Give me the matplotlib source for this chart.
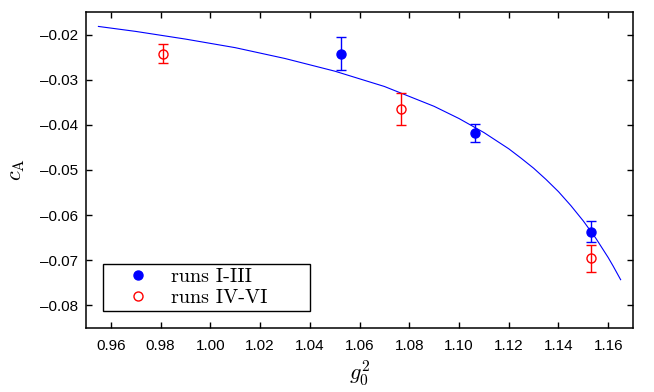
import matplotlib
matplotlib.use("Agg")
import matplotlib.pyplot as plt

# === Data ===
g2_a = [1.0525, 1.1064, 1.1531]
ca_a = [-0.0242, -0.0418, -0.0637]
err_a = [0.0036, 0.0020, 0.0023]

g2_b = [0.9811, 1.0768, 1.1531]
ca_b = [-0.0243, -0.0365, -0.0696]
err_b = [0.0021, 0.0036, 0.0030]

# fit curve, sampled along the drawn line
fit_g2 = [0.955, 0.970, 0.990, 1.010, 1.030, 1.050, 1.070, 1.090, 1.100,
          1.110, 1.120, 1.125, 1.130, 1.135, 1.140, 1.145, 1.150, 1.155,
          1.160, 1.162, 1.165]
fit_ca = [-0.0182, -0.0193, -0.0210, -0.0229, -0.0253, -0.0281, -0.0315, -0.0359,
          -0.0386, -0.0417, -0.0453, -0.0474, -0.0496, -0.0521, -0.0548, -0.0579,
          -0.0613, -0.0651, -0.0694, -0.0713, -0.0743]

xticks = [0.96, 0.98, 1.00, 1.02, 1.04, 1.06, 1.08, 1.10, 1.12, 1.14, 1.16]
yticks = [-0.08, -0.07, -0.06, -0.05, -0.04, -0.03, -0.02]

plt.rcParams['mathtext.fontset'] = 'cm'
plt.rcParams['font.family'] = ['Liberation Sans', 'DejaVu Sans']

fig = plt.figure(figsize=(6.54, 3.92), dpi=100)
ax = fig.add_axes([0.1315, 0.1633, 0.8365, 0.8061])

ax.plot(fit_g2, fit_ca, color='blue', lw=0.8)
ax.errorbar(g2_a, ca_a, yerr=err_a, fmt='o', color='blue', ms=6.5,
            capsize=3.5, elinewidth=1, capthick=1, label='runs I-III')
ax.errorbar(g2_b, ca_b, yerr=err_b, fmt='o', color='red', mfc='none', ms=6.5,
            mew=1, capsize=3.5, elinewidth=1, capthick=1, label='runs IV-VI')

ax.set_xlim(0.95, 1.17)
ax.set_ylim(-0.085, -0.015)
ax.set_xticks(xticks)
ax.set_xticklabels([f"{v:.2f}" for v in xticks])
ax.set_yticks(yticks)
ax.set_yticklabels([f"\u2013{abs(v):.2f}" for v in yticks])
ax.tick_params(direction='in', length=4, width=1, top=True, right=True,
               labelsize=11)
ax.tick_params(axis='x', pad=8)
ax.tick_params(axis='y', pad=6)
for s in ax.spines.values():
    s.set_linewidth(1.1)

ax.set_xlabel(r'$g_0^2$', fontsize=16, labelpad=4)
ax.set_ylabel(r'$c_\mathrm{A}$', fontsize=16, labelpad=9)

handles, labels = ax.get_legend_handles_labels()
handles = [h[0] for h in handles]
leg = ax.legend(handles, labels, loc='lower left',
                bbox_to_anchor=(0.031, 0.053, 0.378, 0.154), mode='expand',
                borderaxespad=0, fancybox=False, edgecolor='black',
                framealpha=1, handlelength=3.0, handletextpad=0.15,
                borderpad=0.22, labelspacing=0.12,
                prop={'family': 'cmr10', 'size': 14.5})
leg.get_frame().set_linewidth(1.0)

fig.savefig("out.png", dpi=100)
